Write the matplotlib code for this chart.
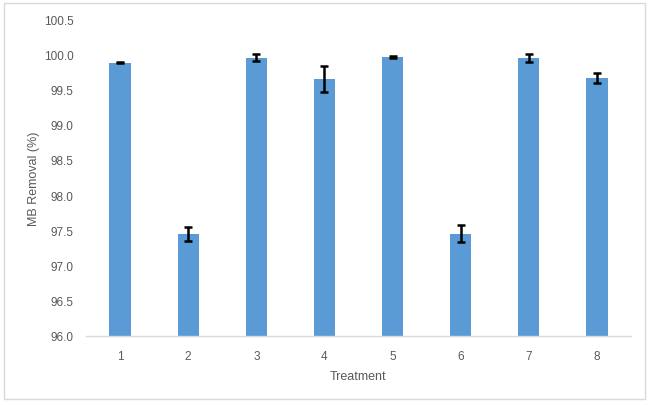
import numpy as np
import matplotlib
matplotlib.use("Agg")
import matplotlib.pyplot as plt
from matplotlib.patches import Rectangle

# ── Data ─────────────────────────────────────────────────────────────────────
treatments = ["1", "2", "3", "4", "5", "6", "7", "8"]
removal    = [99.88, 97.45, 99.95, 99.65, 99.96, 97.45, 99.95, 99.66]
err        = [0.01, 0.095, 0.05, 0.19, 0.01, 0.12, 0.055, 0.07]

BAR_COLOR  = "#5B9BD5"
TEXT_COLOR = "#595959"

plt.rcParams["font.family"] = ["Liberation Sans", "DejaVu Sans"]

fig = plt.figure(figsize=(6.5, 4.06), dpi=100)
ax = fig.add_axes([0.1323, 0.170, 0.8385, 0.7807])

x = np.arange(len(treatments))
ax.bar(x, removal, width=0.31, color=BAR_COLOR, zorder=2)
ax.errorbar(x, removal, yerr=err, fmt="none", ecolor="black",
            elinewidth=1.8, capsize=3, capthick=1.8, zorder=3)

ax.set_xlim(-0.5, len(treatments) - 0.5)
ax.set_ylim(96.0, 100.5)
ax.set_yticks(np.arange(96.0, 100.51, 0.5))
ax.set_yticklabels([f"{v:.1f}" for v in np.arange(96.0, 100.51, 0.5)])
ax.set_xticks(x)
ax.set_xticklabels(treatments)

ax.tick_params(axis="both", length=0, labelsize=8.5, colors=TEXT_COLOR)
ax.tick_params(axis="y", pad=9)
ax.tick_params(axis="x", pad=10)

for side in ["top", "right", "left"]:
    ax.spines[side].set_visible(False)
ax.spines["bottom"].set_color("#d9d9d9")
ax.spines["bottom"].set_linewidth(1.0)

ax.set_xlabel("Treatment", fontsize=9, color=TEXT_COLOR, labelpad=6)
ax.set_ylabel("MB Removal (%)", fontsize=9, color=TEXT_COLOR, labelpad=3)

# chart-area border like Excel
fig.patches.append(Rectangle((4 / 650, 6 / 406), 641 / 650, 396 / 406,
                             transform=fig.transFigure, fill=False,
                             edgecolor="#d9d9d9", linewidth=1.0))

fig.savefig("out.png", dpi=100)
